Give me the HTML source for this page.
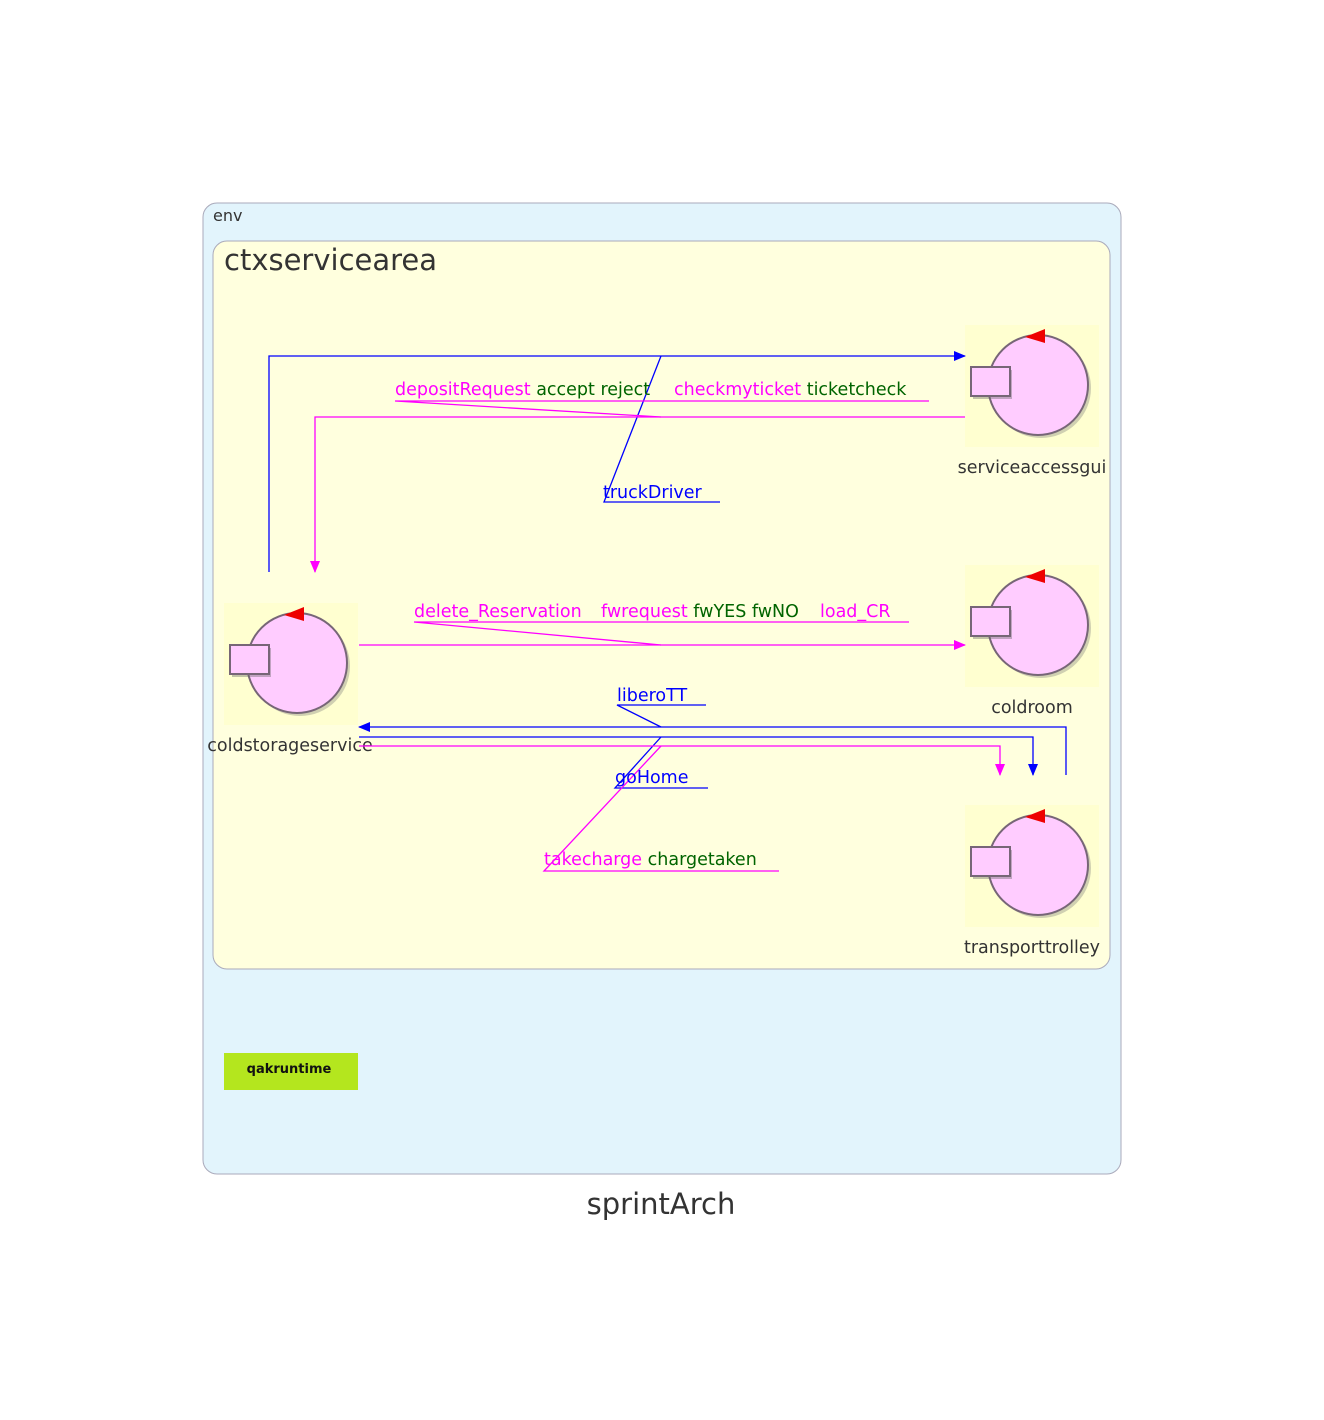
<!DOCTYPE html>
<html><head><meta charset="utf-8"><style>
html,body{margin:0;padding:0;background:#fff;}
svg{display:block;font-family:"DejaVu Sans","Liberation Sans",sans-serif;}
</style></head><body>
<svg width="1324" height="1420" viewBox="0 0 1324 1420" xmlns="http://www.w3.org/2000/svg">
<defs>
<symbol id="actor" viewBox="0 0 134 122">
<rect x="0" y="0" width="134" height="122" fill="#ffffd0"/>
<circle cx="76" cy="63" r="50" fill="#777" opacity="0.35"/>
<circle cx="73" cy="60" r="50" fill="#ffccff" stroke="#776677" stroke-width="2"/>
<polygon points="60,12 80,4 80,18" fill="#ee0000"/>
<rect x="8" y="45" width="39" height="29" fill="#666" opacity="0.4"/>
<rect x="6" y="42" width="39" height="29" fill="#ffccff" stroke="#776677" stroke-width="2"/>
</symbol>
<marker id="ab" markerWidth="12" markerHeight="10" refX="11" refY="5" orient="auto" markerUnits="userSpaceOnUse"><polygon points="0,0 12,5 0,10" fill="#0000ff"/></marker>
<marker id="am" markerWidth="12" markerHeight="10" refX="11" refY="5" orient="auto" markerUnits="userSpaceOnUse"><polygon points="0,0 12,5 0,10" fill="#ff00ff"/></marker>
</defs>

<rect x="203" y="203" width="918" height="971" rx="14" fill="#e2f4fc" stroke="#aab" stroke-width="1"/>
<text x="213" y="221" font-size="16" fill="#333">env</text>
<rect x="213" y="241" width="897" height="728" rx="14" fill="#ffffde" stroke="#aab" stroke-width="1"/>
<text x="224" y="270" font-size="29" fill="#333">ctxservicearea</text>

<g><use href="#actor" x="965" y="325" width="134" height="122"/></g>
<text x="1032" y="473" font-size="17.5" fill="#333" text-anchor="middle">serviceaccessgui</text>
<g><use href="#actor" x="965" y="565" width="134" height="122"/></g>
<text x="1032" y="713" font-size="17.5" fill="#333" text-anchor="middle">coldroom</text>
<g><use href="#actor" x="965" y="805" width="134" height="122"/></g>
<text x="1032" y="953" font-size="17.5" fill="#333" text-anchor="middle">transporttrolley</text>
<g><use href="#actor" x="224" y="603" width="134" height="122"/></g>
<text x="290" y="751" font-size="17.5" fill="#333" text-anchor="middle">coldstorageservice</text>

<g fill="none" stroke-width="1.3">
<polyline points="269,572 269,356 965,356" stroke="#0000ff" marker-end="url(#ab)"/>
<polyline points="661,356 604,502 720,502" stroke="#0000ff"/>
<polyline points="965,417 315,417 315,572" stroke="#ff00ff" marker-end="url(#am)"/>
<polyline points="661,417 395,401 929,401" stroke="#ff00ff"/>
<line x1="359" y1="645" x2="965" y2="645" stroke="#ff00ff" marker-end="url(#am)"/>
<polyline points="661,645 414,622 909,622" stroke="#ff00ff"/>
<polyline points="1066,775 1066,727 359,727" stroke="#0000ff" marker-end="url(#ab)"/>
<polyline points="661,727 617,705 706,705" stroke="#0000ff"/>
<polyline points="359,737 1033,737 1033,775" stroke="#0000ff" marker-end="url(#ab)"/>
<polyline points="661,737 615,788 708,788" stroke="#0000ff"/>
<polyline points="359,746 1000,746 1000,775" stroke="#ff00ff" marker-end="url(#am)"/>
<polyline points="661,746 544,871 779,871" stroke="#ff00ff"/>
</g>

<g font-size="17.5">
<text y="395"><tspan x="395" fill="#ff00ff">depositRequest</tspan> <tspan fill="#006400">accept reject</tspan><tspan x="674" fill="#ff00ff">checkmyticket</tspan> <tspan fill="#006400">ticketcheck</tspan></text>
<text x="603" y="498" fill="#0000ff">truckDriver</text>
<text y="617"><tspan x="414" fill="#ff00ff">delete_Reservation</tspan><tspan x="601" fill="#ff00ff">fwrequest</tspan> <tspan fill="#006400">fwYES fwNO</tspan><tspan x="820" fill="#ff00ff">load_CR</tspan></text>
<text x="617" y="701" fill="#0000ff">liberoTT</text>
<text x="615" y="783" fill="#0000ff">goHome</text>
<text y="865"><tspan x="544" fill="#ff00ff">takecharge</tspan> <tspan fill="#006400">chargetaken</tspan></text>
</g>

<rect x="224" y="1053" width="134" height="37" fill="#b4e61e"/>
<text x="289" y="1073" font-size="13" font-weight="bold" fill="#111" text-anchor="middle">qakruntime</text>

<text x="661" y="1214" font-size="29" fill="#333" text-anchor="middle">sprintArch</text>
</svg>
</body></html>
